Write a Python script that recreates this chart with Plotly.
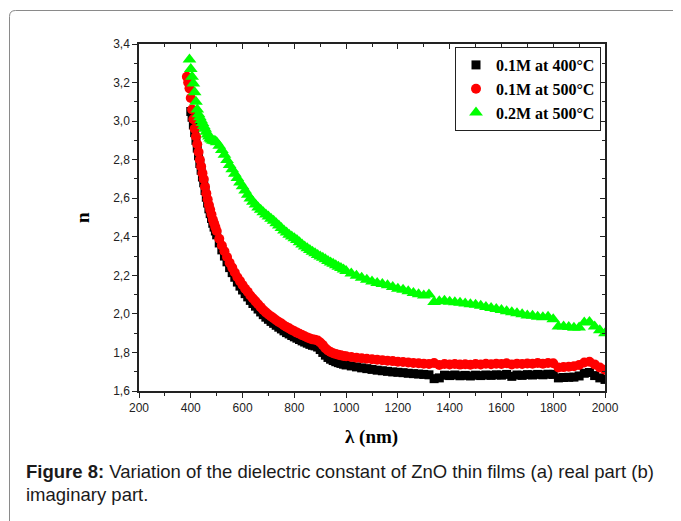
import plotly.graph_objects as go

# ---------------- data ----------------
wl_black = [400, 405, 410, 415, 420, 425, 430, 435, 440, 445, 450, 455, 460, 465, 470, 475, 480, 485, 490, 495, 500,
            510, 520, 530, 540, 550, 560, 570, 580, 590, 600, 610, 620, 630, 640, 650, 660, 670, 680, 690, 700,
            710, 720, 730, 740, 750, 760, 770, 780, 790, 800, 810, 820, 830, 840, 850, 860, 870, 880, 890, 900,
            910, 920, 930, 940, 950, 960, 970, 980, 990, 1000,
            1020, 1040, 1060, 1080, 1100, 1120, 1140, 1160, 1180, 1200, 1220, 1240, 1260, 1280, 1300,
            1320, 1340, 1360, 1380, 1400, 1420, 1440, 1460, 1480, 1500, 1520, 1540, 1560, 1580, 1600,
            1620, 1640, 1660, 1680, 1700, 1720, 1740, 1760, 1780, 1800, 1820, 1840, 1860, 1880, 1900,
            1920, 1940, 1960, 1980, 2000]
n_black = [3.05, 3.02, 2.98, 2.94, 2.90, 2.86, 2.82, 2.78, 2.745, 2.71, 2.68, 2.64, 2.605, 2.575, 2.545, 2.52, 2.495, 2.47, 2.45, 2.43, 2.41,
           2.368, 2.332, 2.30, 2.27, 2.24, 2.214, 2.19, 2.165, 2.144, 2.124, 2.105, 2.088, 2.07, 2.054, 2.04, 2.025, 2.01, 1.996, 1.983, 1.972,
           1.961, 1.951, 1.941, 1.931, 1.922, 1.912, 1.903, 1.896, 1.888, 1.881, 1.874, 1.867, 1.86, 1.854, 1.848, 1.842, 1.837, 1.834, 1.828, 1.815,
           1.80, 1.786, 1.774, 1.765, 1.758, 1.752, 1.747, 1.743, 1.739, 1.735,
           1.73, 1.725, 1.72, 1.716, 1.712, 1.708, 1.705, 1.702, 1.699, 1.697, 1.695, 1.692, 1.69, 1.688, 1.686,
           1.684, 1.664, 1.668, 1.682, 1.68, 1.683, 1.679, 1.681, 1.678, 1.682, 1.68, 1.683, 1.681, 1.684, 1.682,
           1.686, 1.676, 1.683, 1.681, 1.685, 1.683, 1.686, 1.684, 1.687, 1.686, 1.668, 1.67, 1.671, 1.672, 1.678,
           1.692, 1.696, 1.68, 1.668, 1.66]

wl_red = [385, 390, 395] + wl_black
n_red = [3.23, 3.20, 3.17, 3.12, 3.06, 3.01, 2.96, 2.92, 2.88, 2.84, 2.80, 2.765, 2.73, 2.70, 2.66, 2.625, 2.595, 2.565, 2.54, 2.515, 2.49, 2.47, 2.45, 2.43,
         2.39, 2.355, 2.325, 2.295, 2.265, 2.24, 2.215, 2.19, 2.17, 2.15, 2.13, 2.115, 2.095, 2.08, 2.065, 2.05, 2.035, 2.02, 2.008, 1.997,
         1.987, 1.977, 1.967, 1.958, 1.95, 1.94, 1.932, 1.925, 1.917, 1.91, 1.903, 1.897, 1.89, 1.884, 1.878, 1.872, 1.868, 1.866, 1.862, 1.852,
         1.838, 1.822, 1.81, 1.802, 1.796, 1.792, 1.788, 1.785, 1.782, 1.78,
         1.776, 1.773, 1.77, 1.767, 1.765, 1.762, 1.76, 1.757, 1.755, 1.752, 1.75, 1.748, 1.745, 1.744, 1.742,
         1.74, 1.745, 1.735, 1.74, 1.738, 1.74, 1.737, 1.739, 1.736, 1.74, 1.738, 1.741, 1.739, 1.742, 1.74,
         1.744, 1.738, 1.742, 1.74, 1.743, 1.741, 1.745, 1.742, 1.745, 1.744, 1.722, 1.724, 1.726, 1.728, 1.735,
         1.748, 1.752, 1.738, 1.722, 1.71]

wl_green = [395] + wl_black
n_green = [3.32, 3.27, 3.23, 3.195, 3.15, 3.10, 3.06, 3.035, 3.02, 3.005, 2.99, 2.975, 2.96, 2.945, 2.93, 2.92, 2.91, 2.905, 2.90, 2.898, 2.895, 2.89,
           2.872, 2.85, 2.825, 2.798, 2.772, 2.75, 2.727, 2.705, 2.682, 2.662, 2.64, 2.618, 2.598, 2.582, 2.567, 2.552, 2.54, 2.527, 2.515, 2.505,
           2.494, 2.483, 2.47, 2.458, 2.445, 2.433, 2.422, 2.411, 2.401, 2.392, 2.383, 2.372, 2.36, 2.35, 2.34, 2.331, 2.322, 2.314, 2.306, 2.298,
           2.291, 2.283, 2.275, 2.267, 2.26, 2.252, 2.245, 2.238, 2.23, 2.223,
           2.21, 2.198, 2.187, 2.177, 2.168, 2.16, 2.155, 2.148, 2.14, 2.13, 2.125, 2.118, 2.108, 2.102, 2.095,
           2.10, 2.062, 2.065, 2.068, 2.063, 2.06, 2.058, 2.054, 2.05, 2.047, 2.042, 2.036, 2.03, 2.025, 2.02,
           2.014, 2.008, 2.003, 1.998, 1.992, 1.99, 1.985, 1.982, 1.985, 1.972, 1.935, 1.934, 1.932, 1.928, 1.93,
           1.955, 1.958, 1.935, 1.915, 1.90]

series_names = ["0.1M at 400°C", "0.1M at 500°C", "0.2M at 500°C"]

x_tickvals = [200, 400, 600, 800, 1000, 1200, 1400, 1600, 1800, 2000]
x_ticktext = ["200", "400", "600", "800", "1000", "1200", "1400", "1600", "1800", "2000"]
y_tickvals = [1.6, 1.8, 2.0, 2.2, 2.4, 2.6, 2.8, 3.0, 3.2, 3.4]
y_ticktext = ["1,6", "1,8", "2,0", "2,2", "2,4", "2,6", "2,8", "3,0", "3,2", "3,4"]

caption_bold = "Figure 8:"
caption_line1 = " Variation of the dielectric constant of ZnO thin films (a) real part (b)"
caption_line2 = "imaginary part."

# ---------------- geometry helpers (target-pixel -> paper) ----------------
OFF = 8  # page body margin
W, H = 681 - OFF, 521 - OFF
L, R, T, B = 139, 605, 44, 391   # plot area in target pixels
def px(x):
    return (x - L) / (R - L)
def py(y):
    return (B - y) / (B - T)

fig = go.Figure()
fig.add_trace(go.Scatter(x=wl_black, y=n_black, mode="markers", name=series_names[0],
                         marker=dict(symbol="square", size=9, color="#000000")))
fig.add_trace(go.Scatter(x=wl_red, y=n_red, mode="markers", name=series_names[1],
                         marker=dict(symbol="circle", size=10, color="#ff0000")))
fig.add_trace(go.Scatter(x=wl_green, y=n_green, mode="markers", name=series_names[2],
                         marker=dict(symbol="triangle-up", size=12, color="#00ff00")))
fig.add_trace(go.Scatter(x=[], y=[], xaxis="x2", yaxis="y2", showlegend=False, hoverinfo="skip"))

axis_common = dict(showgrid=False, zeroline=False, showline=True, linecolor="#222222", linewidth=1.5,
                   tickcolor="#222222", tickwidth=1.2)
tickfont = dict(family="Liberation Sans, Arial", size=12, color="#222222")

fig.update_layout(
    width=W, height=H,
    margin=dict(l=L - OFF, r=W - (R - OFF), t=T - OFF, b=H - (B - OFF)),
    paper_bgcolor="white", plot_bgcolor="white",
    showlegend=True,
    xaxis=dict(range=[200, 2000], tickvals=x_tickvals, ticktext=x_ticktext, ticks="outside", ticklen=5,
               minor=dict(dtick=100, tick0=200, ticks="outside", ticklen=3, tickcolor="#222222"),
               tickfont=tickfont, **axis_common),
    yaxis=dict(range=[1.6, 3.4], tickvals=y_tickvals, ticktext=y_ticktext, ticks="outside", ticklen=5,
               minor=dict(dtick=0.1, tick0=1.6, ticks="outside", ticklen=3, tickcolor="#222222"),
               tickfont=tickfont, **axis_common),
    xaxis2=dict(range=[200, 2000], overlaying="x", side="top", anchor="y2", tickvals=x_tickvals,
                showticklabels=False, ticks="inside", ticklen=5,
                minor=dict(dtick=100, tick0=200, ticks="inside", ticklen=3, tickcolor="#222222"),
                **axis_common),
    yaxis2=dict(range=[1.6, 3.4], overlaying="y", side="right", anchor="x2", tickvals=y_tickvals,
                showticklabels=False, ticks="inside", ticklen=5,
                minor=dict(dtick=0.1, tick0=1.6, ticks="inside", ticklen=3, tickcolor="#222222"),
                **axis_common),
    legend=dict(x=px(601), y=py(47), xanchor="right", yanchor="top",
                bordercolor="#222222", borderwidth=1, bgcolor="white",
                font=dict(family="Liberation Serif, Times New Roman", size=16, color="#000000", weight="bold"),
                tracegroupgap=0, itemwidth=30),
)

ann_font_serif = dict(family="Liberation Serif, Times New Roman", size=19, color="#000000", weight="bold")
fig.add_annotation(text="λ (nm)", xref="paper", yref="paper", x=px(371), y=py(437),
                   xanchor="center", yanchor="middle", showarrow=False, font=ann_font_serif)
fig.add_annotation(text="n", xref="paper", yref="paper", x=px(82), y=py(218), textangle=-90,
                   xanchor="center", yanchor="middle", showarrow=False, font=ann_font_serif)

cap_font = dict(family="Liberation Sans, Arial", size=18.5, color="#1a1a1a")
fig.add_annotation(text="<b>" + caption_bold + "</b>" + caption_line1, xref="paper", yref="paper",
                   x=px(24), y=py(471), xanchor="left", yanchor="middle", showarrow=False, font=cap_font)
fig.add_annotation(text=caption_line2, xref="paper", yref="paper",
                   x=px(24), y=py(494), xanchor="left", yanchor="middle", showarrow=False, font=cap_font)

# outer rounded frame (only top/left edges visible)
x0, y0 = px(9.5), py(10.5)
rx, ry = 6 / (R - L), 6 / (B - T)
xr, yb = px(700), py(540)
fig.add_shape(type="path", xref="paper", yref="paper",
              path=f"M {x0} {yb} L {x0} {y0 - ry} Q {x0} {y0} {x0 + rx} {y0} L {xr} {y0}",
              line=dict(color="#8a8a8a", width=1))

fig.write_html("out.html")
